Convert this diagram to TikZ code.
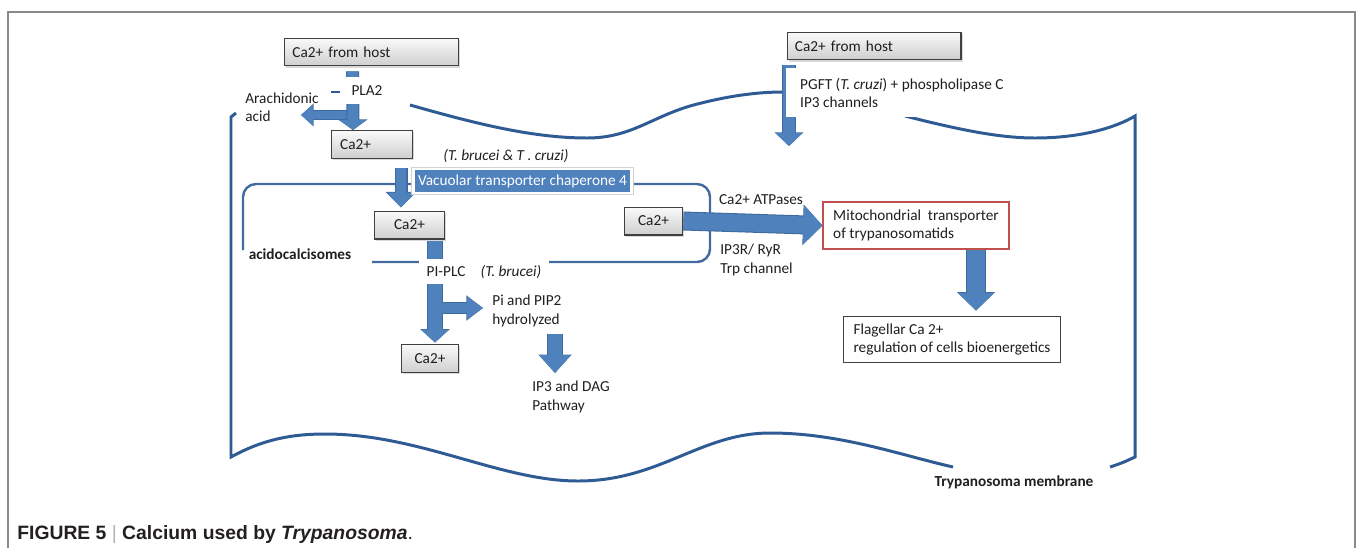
\documentclass[tikz,border=0pt]{standalone}
\usepackage{fontspec}
\setmainfont{Carlito}
\newfontfamily\capfont{Liberation Sans}
\usetikzlibrary{arrows.meta,calc,shadows,backgrounds}
\definecolor{arrowblue}{HTML}{4F81BD}
\definecolor{arrowedge}{HTML}{3D6A9F}
\definecolor{membblue}{HTML}{2F5B95}
\definecolor{mitored}{HTML}{C0504D}
\definecolor{framegray}{HTML}{8A8A8A}
\definecolor{inktext}{HTML}{1F1F1F}
\definecolor{captext}{HTML}{231F20}
\tikzset{
        every node/.style={text=inktext},
        cabox/.style={rectangle, draw=black!75, line width=0.6pt, top color=gray!4, bottom color=gray!38,
          drop shadow={shadow xshift=0.9pt, shadow yshift=-0.9pt, opacity=0.3}, inner sep=0pt, minimum height=15.9pt},
        hostbox/.style={cabox, text width=90pt, inner xsep=4.5pt, align=left},
        vtcbox/.style={rectangle, fill=arrowblue, draw=white, line width=1.6pt, text=white, inner sep=0pt,
          minimum width=124pt, minimum height=13.6pt, preaction={draw=gray!35, line width=2.8pt}},
        mitobox/.style={rectangle, draw=mitored, line width=1.1pt, fill=white, align=left, inner sep=0pt,
          minimum width=105.4pt, minimum height=26.6pt},
        flagbox/.style={rectangle, draw=black!75, line width=0.7pt, fill=white, align=left, inner sep=0pt,
          minimum width=123.6pt, minimum height=26.6pt},
        txt/.style={inner sep=0pt, align=left},
        cover/.style={fill=white, inner sep=0pt},
        memb/.style={draw=membblue, line width=1.7pt},
        acido/.style={draw=membblue!90!white, line width=1.4pt},
        outerframe/.style={draw=framegray, line width=0.85pt},
        fatarrow/.style n args={3}{draw=arrowblue, line width=#1, -{Triangle[width=#2 1, length=#3 0.25]},
          preaction={draw=arrowedge, line width=#1+1.2pt, -{Triangle[width=#2 1, length=#3 0.25]}}}
          }
\begin{document}
\begin{tikzpicture}[x=0.02cm, y=-0.02cm, font=\fontsize{8.7}{10.4}\selectfont]
      \useasboundingbox (0,0) rectangle (1358,548);
      \node[hostbox] (host1) at (371.5,52) {Ca2+ from host};
      \node[hostbox] (host2) at (874,46) {Ca2+ from host};
      \node[cover, minimum width=28.3pt, minimum height=15.3pt] (pla) at (367,90.5) {PLA2};
      \node[txt, anchor=west] (acid) at (245,107.5) {Arachidonic\\acid};
      \node[cabox, text width=36.3pt, inner xsep=5.1pt, align=left] (ca1) at (372,144.5) {Ca2+};
      \node[txt] (both) at (506,156) {\itshape (T. brucei \& T . cruzi)};
      \node[vtcbox] (vtc) at (522.5,181) {Vacuolar transporter chaperone 4};
      \node[cabox, minimum width=40.3pt] (ca2) at (409.5,225) {Ca2+};
      \node[txt] (acs) at (300,254) {\bfseries acidocalcisomes};
      \node[cover, minimum width=73.7pt, minimum height=14.7pt] (plc) at (484,271.5) {PI-PLC\quad\textit{(T. brucei)}};
      \node[cabox, minimum width=32.9pt, minimum height=16.4pt] (ca3) at (430,358.5) {Ca2+};
      \node[txt, anchor=west] (pip) at (492,311) {Pi and PIP2\\hydrolyzed};
      \node[txt, anchor=west] (ip3) at (532,397) {IP3 and DAG\\Pathway};
      \node[cabox, minimum width=33.4pt] (ca4) at (653.5,221) {Ca2+};
      \node[txt] (atp) at (761,200) {Ca2+ ATPases};
      \node[txt, anchor=west] (ryr) at (720,260) {IP3R/ RyR\\Trp channel};
      \node[mitobox] (mito) at (916,225.5) {Mitochondrial\ \ transporter\\of trypanosomatids};
      \node[flagbox] (flag) at (952,339.5) {Flagellar Ca 2+\\regulation of cells bioenergetics};
      \node[cover, anchor=north west, align=left, inner xsep=7.9pt, minimum height=27.8pt] (pgft) at (786,68)
        {PGFT (\textit{T. cruzi}) + phospholipase C\\IP3 channels};
      \node[txt] (memlab) at (1014,482) {\bfseries Trypanosoma membrane};
      \node[anchor=base west, inner sep=0pt, text=captext] (cap) at (17,539)
        {\capfont\fontsize{11}{13}\selectfont\bfseries FIGURE 5 {\mdseries\color{gray!60}|} Calcium used by \textit{Trypanosoma}{\mdseries .}};
      \coordinate (aj) at (352.5,115);
      \coordinate (aa) at (301,115);
      \coordinate (vx) at (401,0);
      \coordinate (px) at (435,0);
      \coordinate (pis) at (442,308);
      \coordinate (dx) at (555,0);
      \coordinate (rx) at (976,0);
      \coordinate (hx) at (789,146);
      \begin{scope}[on background layer]
        \draw[outerframe] (8,548) -- (8,12) -- (1355,12) -- (1355,548);
        \draw[memb] (236,113) -- (231,117) -- (231,457) .. controls (262,440) and (290,434) .. (325,434)
          .. controls (420,434) and (500,481) .. (578,481) .. controls (660,481) and (700,433) .. (770,433)
          .. controls (840,433) and (900,455) .. (953,467);
        \draw[memb] (410,105) .. controls (470,122) and (530,138) .. (587,138)
          .. controls (630,138) and (650,118) .. (690,106) .. controls (730,95) and (760,92) .. (783,92);
        \draw[memb] (905,116) .. controls (960,130) and (1000,138) .. (1035,138)
          .. controls (1080,138) and (1115,128) .. (1135,116) -- (1135,457) .. controls (1122,463) .. (1110,467);
        \draw[memb, line width=1.2pt] (331,92) -- (340,92);
        \draw[acido, rounded corners=7.4pt] (243,250) -- (243,184) -- (710,184) -- (710,262) -- (372,262);
        \draw[fatarrow={4.5pt}{6.8pt}{5.7pt}] (aj) -- (aa);
        \draw[fatarrow={6.2pt}{9.1pt}{4.2pt}, shorten <=2.8pt] ($(host1.south)+(-19,0)$) -- ($(ca1.north)+(-19,0)$);
        \draw[fatarrow={6.2pt}{9.7pt}{7pt}, shorten <=5.1pt, shorten >=1.7pt] (ca1.south -| vx) -- (ca2.north -| vx);
        \draw[fatarrow={7.9pt}{7.4pt}{5.4pt}, shorten <=0.6pt, shorten >=0.6pt] (ca2.south -| px) -- (ca3.north -| px);
        \draw[fatarrow={5.7pt}{6.8pt}{7.7pt}, shorten >=5.1pt] (pis) -- (pis -| pip.west);
        \draw[fatarrow={7.9pt}{9.1pt}{8.2pt}, shorten <=4pt, shorten >=4.5pt] (pip.south -| dx) -- (ip3.north -| dx);
        \draw[fatarrow={9.6pt}{11.9pt}{8.4pt}] (ca4.east) -- (mito.west);
        \draw[fatarrow={10.2pt}{9.6pt}{7.6pt}, shorten >=2.8pt] (mito.south -| rx) -- (flag.north -| rx);
        \draw[fatarrow={6.8pt}{7.9pt}{5.7pt}, shorten <=2.8pt] (host2.south -| hx) -- (hx);
      \end{scope}
\end{tikzpicture}
\end{document}
